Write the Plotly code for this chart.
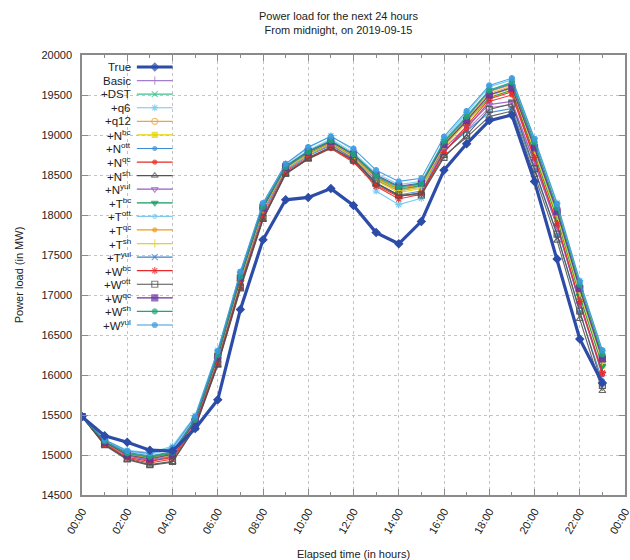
import plotly.graph_objects as go

# Hours of the forecast horizon (0..23) and the axis tick labels
hours = list(range(24))
tick_hours = list(range(0, 25, 2))
tick_labels = ["%02d:00" % (h % 24) for h in tick_hours]

# Observed load (MW)
true_load = [15480, 15240, 15160, 15060, 15050, 15330, 15690, 16820, 17690, 18190, 18220, 18330,
             18120, 17780, 17640, 17920, 18560, 18890, 19180, 19250, 18420, 17450, 16450, 15900]

# Forecasts from each model variant (MW)
basic = [15480, 15170, 15010, 14950, 15000, 15420, 16240, 17200, 18080, 18580, 18770, 18890,
         18710, 18440, 18300, 18350, 18800, 19060, 19340, 19380, 18650, 17850, 16900, 16050]
dst = [15480, 15150, 15000, 14960, 15020, 15440, 16250, 17230, 18100, 18600, 18790, 18920,
       18760, 18470, 18330, 18380, 18900, 19200, 19500, 19600, 18830, 18000, 17050, 16180]
q6 = [15480, 15190, 15060, 15030, 15110, 15490, 16310, 17290, 18140, 18640, 18840, 18990,
      18810, 18300, 18130, 18210, 18950, 19280, 19600, 19690, 18960, 18150, 17180, 16300]
q12 = [15480, 15170, 15020, 14980, 15030, 15450, 16260, 17240, 18120, 18610, 18780, 18900,
       18730, 18450, 18300, 18360, 18880, 19180, 19520, 19610, 18850, 18050, 17100, 16230]
n_bc = [15480, 15160, 15000, 14950, 15000, 15410, 16200, 17160, 18060, 18570, 18760, 18890,
        18720, 18430, 18280, 18330, 18850, 19150, 19460, 19560, 18760, 17950, 16980, 16120]
n_ott = [15480, 15150, 14990, 14930, 14980, 15390, 16180, 17140, 18030, 18550, 18740, 18870,
         18700, 18400, 18250, 18300, 18800, 19050, 19280, 19330, 18560, 17750, 16780, 15930]
n_qc = [15480, 15130, 14960, 14900, 14950, 15360, 16130, 17090, 17950, 18520, 18700, 18830,
        18660, 18370, 18230, 18280, 18790, 19080, 19420, 19500, 18700, 17880, 16900, 16000]
n_sh = [15480, 15120, 14940, 14870, 14910, 15340, 16120, 17070, 17940, 18510, 18700, 18840,
        18680, 18390, 18240, 18270, 18740, 18970, 19230, 19300, 18500, 17680, 16700, 15800]
n_yul = [15480, 15150, 14990, 14940, 14990, 15400, 16200, 17170, 18060, 18570, 18760, 18880,
         18710, 18440, 18310, 18360, 18830, 19110, 19380, 19420, 18660, 17860, 16890, 16020]
t_bc = [15480, 15160, 15010, 14970, 15020, 15430, 16230, 17200, 18080, 18590, 18770, 18900,
        18730, 18460, 18320, 18370, 18870, 19170, 19470, 19560, 18770, 17960, 16990, 16110]
t_ott = [15480, 15180, 15040, 15010, 15070, 15470, 16290, 17270, 18130, 18620, 18810, 18950,
         18780, 18520, 18380, 18420, 18930, 19240, 19560, 19650, 18900, 18080, 17110, 16240]
t_qc = [15480, 15160, 15010, 14960, 15010, 15430, 16250, 17220, 18110, 18600, 18780, 18910,
        18740, 18470, 18330, 18380, 18900, 19210, 19540, 19630, 18880, 18080, 17120, 16250]
t_sh = [15480, 15150, 15000, 14950, 15000, 15410, 16210, 17180, 18070, 18580, 18760, 18890,
        18720, 18450, 18310, 18350, 18870, 19160, 19490, 19580, 18800, 17990, 17030, 16170]
t_yul = [15480, 15170, 15030, 14990, 15040, 15450, 16270, 17250, 18120, 18610, 18800, 18930,
         18750, 18480, 18350, 18390, 18910, 19220, 19550, 19640, 18870, 18060, 17090, 16220]
w_bc = [15480, 15140, 14970, 14920, 14970, 15380, 16160, 17120, 17990, 18540, 18720, 18850,
        18670, 18360, 18200, 18260, 18780, 19120, 19450, 19540, 18720, 17890, 16920, 16030]
w_ott = [15480, 15130, 14950, 14880, 14920, 15350, 16140, 17100, 17960, 18520, 18710, 18850,
         18690, 18400, 18250, 18250, 18720, 19000, 19320, 19390, 18580, 17760, 16800, 15870]
w_qc = [15480, 15160, 15000, 14950, 15010, 15420, 16230, 17210, 18090, 18600, 18790, 18920,
        18760, 18500, 18360, 18400, 18880, 19180, 19500, 19590, 18840, 18040, 17080, 16200]
w_sh = [15480, 15170, 15020, 14980, 15030, 15440, 16250, 17230, 18100, 18600, 18790, 18930,
        18760, 18490, 18350, 18390, 18920, 19230, 19560, 19660, 18910, 18090, 17130, 16260]
w_yul = [15480, 15190, 15050, 15020, 15090, 15480, 16300, 17290, 18150, 18640, 18850, 18980,
         18830, 18560, 18420, 18460, 18980, 19300, 19620, 19710, 18950, 18140, 17170, 16310]

# (label, values, colour, marker symbol, marker size)
series = [
    ("True", true_load, "#2c4ca8", "diamond", 6),
    ("Basic", basic, "#a27fcc", "line-ns-open", 6),
    ("+DST", dst, "#3fc08c", "x-thin-open", 6),
    ("+q6", q6, "#6cc8f0", "asterisk-open", 6),
    ("+q12", q12, "#f2a43a", "circle-open", 6),
    ("+N<sup>bc</sup>", n_bc, "#e6d400", "square", 5),
    ("+N<sup>ott</sup>", n_ott, "#3a8ed6", "circle", 4),
    ("+N<sup>qc</sup>", n_qc, "#e62a20", "circle", 4),
    ("+N<sup>sh</sup>", n_sh, "#555555", "triangle-up-open", 6),
    ("+N<sup>yul</sup>", n_yul, "#9a5cc8", "triangle-down-open", 6),
    ("+T<sup>bc</sup>", t_bc, "#149a5c", "triangle-down", 6),
    ("+T<sup>ott</sup>", t_ott, "#7ccaf0", "circle-open", 4),
    ("+T<sup>qc</sup>", t_qc, "#f09a20", "circle", 4),
    ("+T<sup>sh</sup>", t_sh, "#e2d22a", "cross-thin-open", 6),
    ("+T<sup>yul</sup>", t_yul, "#3c80c6", "x-thin-open", 6),
    ("+W<sup>bc</sup>", w_bc, "#e82a2c", "asterisk-open", 6),
    ("+W<sup>ott</sup>", w_ott, "#505050", "square-open", 6),
    ("+W<sup>qc</sup>", w_qc, "#6a30a0", "square", 6),
    ("+W<sup>sh</sup>", w_sh, "#1ca67c", "circle", 5),
    ("+W<sup>yul</sup>", w_yul, "#3a9ade", "circle", 5),
]

fig = go.Figure()

# Forecast variants first, observed load on top
for name, vals, color, sym, size in series[1:] + series[:1]:
    is_true = name == "True"
    fig.add_trace(go.Scatter(
        x=hours, y=vals, mode="lines+markers", name=name, showlegend=False,
        line=dict(color=color, width=3.2 if is_true else 1.1),
        marker=dict(color=color, symbol=sym, size=size,
                    line=dict(color=color, width=1.2)),
        opacity=1 if is_true else 0.9,
    ))

# Key in the upper-left corner: right-aligned label, short line sample, marker
x_text, x_l0, x_l1, x_mk = 0.094, 0.101, 0.167, 0.134
row0, row_step = 0.9727, 0.03086
mk_x, mk_y, mk_col, mk_sym, mk_size = [], [], [], [], []
for i, (name, vals, color, sym, size) in enumerate(series):
    yy = row0 - i * row_step
    fig.add_annotation(x=x_text, y=yy, xref="paper", yref="paper", text=name,
                       showarrow=False, xanchor="right", yanchor="middle",
                       font=dict(size=11.5, color="#222222"))
    fig.add_shape(type="line", xref="paper", yref="paper", x0=x_l0, x1=x_l1, y0=yy, y1=yy,
                  line=dict(color=color, width=3.2 if i == 0 else 1.2))
    mk_x.append(x_mk)
    mk_y.append(yy)
    mk_col.append(color)
    mk_sym.append(sym)
    mk_size.append(size)

fig.add_trace(go.Scatter(
    x=mk_x, y=mk_y, xaxis="x2", yaxis="y2", mode="markers", showlegend=False,
    hoverinfo="skip",
    marker=dict(color=mk_col, symbol=mk_sym, size=mk_size, line=dict(color=mk_col, width=1.2)),
))

# Two-line heading above the plot
fig.add_annotation(x=0.472, y=1.072, xref="paper", yref="paper", showarrow=False,
                   text="Power load for the next 24 hours<br>From midnight, on 2019-09-15",
                   xanchor="center", yanchor="middle", align="center",
                   font=dict(size=11, color="#222222"))

axis_col = "#8a8a8a"
grid_col = "#c4c4c4"

fig.update_layout(
    width=630, height=560,
    margin=dict(l=82, r=5, t=55, b=65),
    paper_bgcolor="white", plot_bgcolor="white",
    font=dict(family="Liberation Sans, Arial, sans-serif", size=11, color="#222222"),
    xaxis=dict(
        range=[-0.0001, 24.0001], tickvals=tick_hours, ticktext=tick_labels, tickangle=-60,
        ticks="inside", ticklen=6, tickcolor=axis_col, tickwidth=1,
        minor=dict(dtick=1, ticks="inside", ticklen=3, tickcolor=axis_col, showgrid=False),
        showgrid=True, gridcolor=grid_col, griddash="dot", gridwidth=1,
        showline=True, linecolor=axis_col, linewidth=1.5, mirror="ticks",
        zeroline=False, tickfont=dict(size=11), automargin=False,
        ticklabeloverflow="allow", ticklabelstandoff=4,
        title=dict(text="Elapsed time (in hours)", standoff=17, font=dict(size=11)),
    ),
    yaxis=dict(
        range=[14500, 20000], dtick=500, tick0=14500, tickformat="d",
        ticks="inside", ticklen=6, tickcolor=axis_col, tickwidth=1,
        showgrid=True, gridcolor=grid_col, griddash="dot", gridwidth=1,
        showline=True, linecolor=axis_col, linewidth=1.5, mirror="ticks",
        zeroline=False, tickfont=dict(size=11), automargin=False,
        ticklabelstandoff=6,
        title=dict(text="Power load (in MW)", standoff=16, font=dict(size=11)),
    ),
    xaxis2=dict(overlaying="x", range=[0, 1], visible=False, fixedrange=True),
    yaxis2=dict(overlaying="y", range=[0, 1], visible=False, fixedrange=True),
)

fig.write_html("out.html")
